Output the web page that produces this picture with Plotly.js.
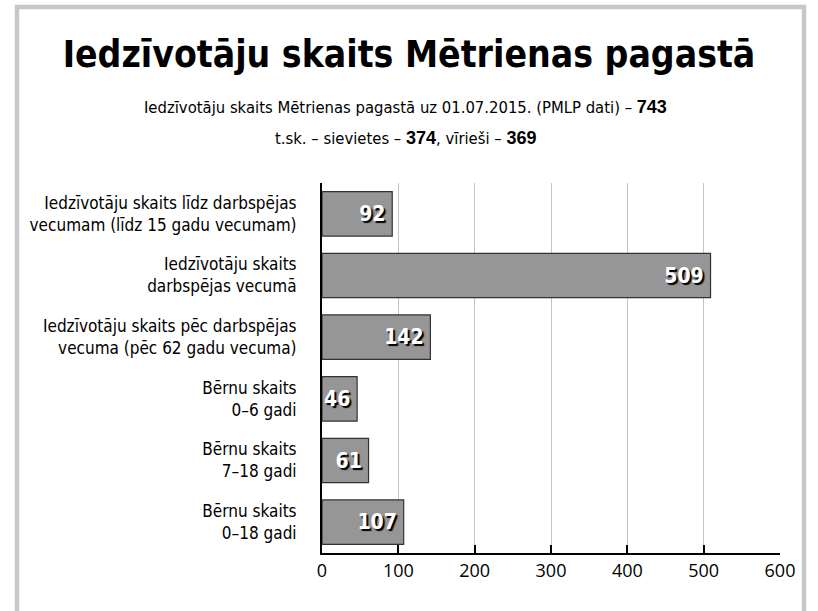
<!DOCTYPE html>
<html>
<head>
<meta charset="utf-8">
<script src="https://cdn.plot.ly/plotly-3.0.1.min.js"></script>
<style>
html,body{margin:0;padding:0;background:#fff;}
#chart{width:818px;height:611px;}
</style>
</head>
<body>
<div id="chart"></div>
<script>
const categories = [
  "Iedzīvotāju skaits līdz darbspējas<br>vecumam (līdz 15 gadu vecumam)",
  "Iedzīvotāju skaits<br>darbspējas vecumā",
  "Iedzīvotāju skaits pēc darbspējas<br>vecuma (pēc 62 gadu vecuma)",
  "Bērnu skaits<br>0–6 gadi",
  "Bērnu skaits<br>7–18 gadi",
  "Bērnu skaits<br>0–18 gadi"
];
const values = [92, 509, 142, 46, 61, 107];
const tickValues = [0, 100, 200, 300, 400, 500, 600];
const titleText = "Iedzīvotāju skaits Mētrienas pagastā";
const totalAll = 743, totalWomen = 374, totalMen = 369;

const narrow = "DejaVu Sans Condensed, DejaVu Sans, sans-serif";
const boldWide = "font-family:Liberation Sans, Arial, sans-serif;font-weight:bold;font-stretch:normal;font-size:18px";

const trace = {
  type: 'bar',
  orientation: 'h',
  y: categories,
  x: values,
  text: values.map(v => v + '\u2009'),
  textposition: 'inside',
  insidetextanchor: 'end',
  textangle: 0,
  constraintext: 'none',
  textfont: {family: narrow, size: 21, color: '#ffffff', weight: 'bold', stretch: 'condensed', shadow: '2px 2px 1px #000000'},
  marker: {color: '#969696', line: {color: '#333333', width: 1.2}},
  width: 0.72,
  hoverinfo: 'none'
};

const layout = {
  width: 818, height: 611,
  margin: {l: 322, r: 38, t: 183, b: 58},
  paper_bgcolor: '#ffffff', plot_bgcolor: '#ffffff',
  showlegend: false,
  title: {
    text: titleText,
    font: {family: narrow, size: 37, color: '#000000', weight: 'bold', stretch: 'condensed'},
    x: 0.5, xref: 'container', xanchor: 'center',
    y: 0.912, yref: 'container', yanchor: 'middle'
  },
  xaxis: {
    range: [0, 600],
    tickvals: tickValues,
    ticktext: tickValues.map(String),
    showgrid: true, gridcolor: '#c4c4c4', gridwidth: 1,
    zeroline: false,
    showline: true, linecolor: '#000000', linewidth: 2,
    ticks: 'inside', ticklen: 8, tickwidth: 2, tickcolor: '#000000',
    tickfont: {family: "Open Sans, Noto Sans, sans-serif", size: 18, color: '#000000'},
    fixedrange: true
  },
  yaxis: {
    autorange: 'reversed',
    showgrid: false, zeroline: false,
    showline: true, linecolor: '#000000', linewidth: 2,
    ticks: '',
    ticklabelstandoff: 20,
    tickfont: {family: narrow, size: 17, color: '#000000', stretch: 'condensed'},
    fixedrange: true
  },
  annotations: [
    {
      text: 'Iedzīvotāju skaits Mētrienas pagastā uz 01.07.2015. (PMLP dati) – <span style="' + boldWide + '">' + totalAll + '</span>',
      xref: 'paper', yref: 'paper', x: 0.1834, y: 1.205,
      xanchor: 'center', yanchor: 'middle', showarrow: false,
      font: {family: narrow, size: 16.5, color: '#000000', stretch: 'condensed'}
    },
    {
      text: 't.sk. – sievietes – <span style="' + boldWide + '">' + totalWomen + '</span>, vīrieši – <span style="' + boldWide + '">' + totalMen + '</span>',
      xref: 'paper', yref: 'paper', x: 0.1834, y: 1.122,
      xanchor: 'center', yanchor: 'middle', showarrow: false,
      font: {family: narrow, size: 16.5, color: '#000000', stretch: 'condensed'}
    }
  ],
  shapes: [
    {
      type: 'path', xref: 'paper', yref: 'paper',
      path: 'M -0.666,-0.2 L -0.666,1.4757 L 1.0524,1.4757 L 1.0524,-0.2',
      line: {color: '#c8c8c8', width: 4.5},
      layer: 'below'
    }
  ]
};

Plotly.newPlot('chart', [trace], layout, {staticPlot: true, displayModeBar: false});
</script>
</body>
</html>
